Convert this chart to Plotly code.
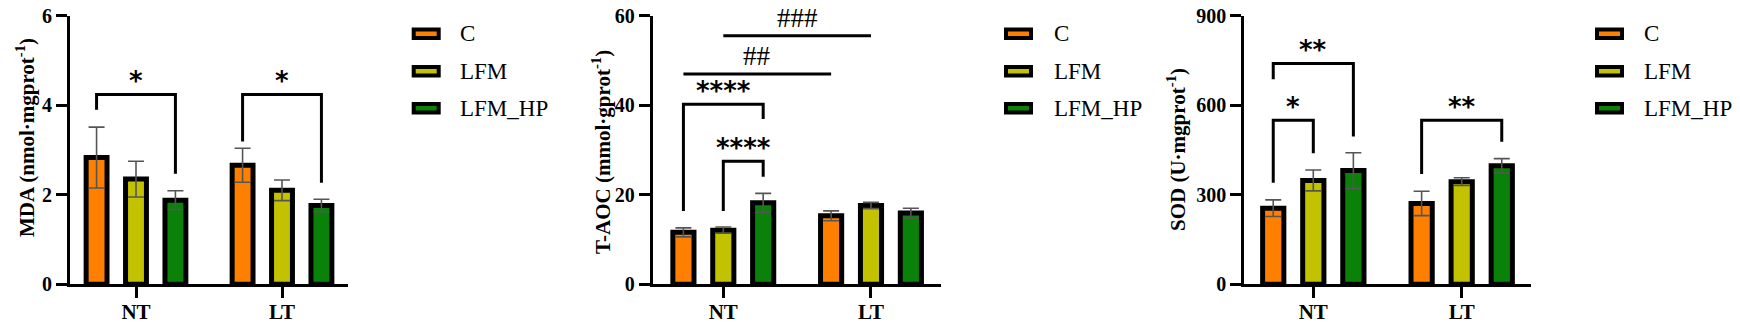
import plotly.graph_objects as go

# ---------------- data ----------------
categories = ["NT", "LT"]
groups = ["C", "LFM", "LFM_HP"]
colors = ["#FF8000", "#C2C200", "#0A820A"]

mda_C = [2.83, 2.66]
mda_LFM = [2.35, 2.10]
mda_HP = [1.88, 1.76]
mda_C_err = [0.68, 0.38]
mda_LFM_err = [0.40, 0.23]
mda_HP_err = [0.21, 0.14]

taoc_C = [11.6, 15.3]
taoc_LFM = [12.1, 17.6]
taoc_HP = [18.2, 15.9]
taoc_C_err = [1.0, 1.1]
taoc_LFM_err = [0.7, 0.7]
taoc_HP_err = [2.1, 1.1]

sod_C = [255, 271]
sod_LFM = [348, 344]
sod_HP = [381, 397]
sod_C_err = [28, 41]
sod_LFM_err = [35, 13]
sod_HP_err = [60, 24]

y_titles = ["MDA (nmol·mgprot<sup>-1</sup>)",
            "T-AOC (mmol·gprot<sup>-1</sup>)",
            "SOD (U·mgprot<sup>-1</sup>)"]
y_ticks = [[0, 2, 4, 6], [0, 20, 40, 60], [0, 300, 600, 900]]

# significance brackets: (panel, cat_a, grp_a, cat_b, grp_b, top, leg_a, leg_b, label)
brackets = [
    (0, 0, 0, 0, 2, 4.24, 3.90, 2.47, "*"),
    (0, 1, 0, 1, 2, 4.24, 3.19, 2.27, "*"),
    (1, 0, 0, 0, 2, 40.2, 16.4, 36.9, "****"),
    (1, 0, 1, 0, 2, 27.5, 16.4, 24.0, "****"),
    (2, 0, 0, 0, 1, 550, 340, 439, "*"),
    (2, 0, 0, 0, 2, 740, 687, 495, "**"),
    (2, 1, 0, 1, 2, 550, 370, 478, "**"),
]
# hash lines (no legs): (panel, cat_a, grp_a, cat_b, grp_b, level, label)
hash_lines = [
    (1, 0, 0, 1, 0, 47.0, "##"),
    (1, 0, 1, 1, 1, 55.5, "###"),
]

# ---------------- layout constants ----------------
PAGE_MARGIN = 8          # default <body> margin of the written page
W, H = 1740, 326         # target window
FW, FH = W - PAGE_MARGIN, H - PAGE_MARGIN


def px_x(x):
    return (x - PAGE_MARGIN) / FW


def px_y(y):
    return 1 - (y - PAGE_MARGIN) / FH


BARGAP, BARGROUPGAP = 0.19, 0.47
x_dom_px = [(70, 348), (652.7, 941), (1244.3, 1530.7)]
x_ranges = [[-0.452, 1.452], [-0.478, 1.474], [-0.465, 1.465]]
y_dom = [px_y(284.3), px_y(15.7)]
serif = "Liberation Serif"

panels = [
    ([mda_C, mda_LFM, mda_HP], [mda_C_err, mda_LFM_err, mda_HP_err]),
    ([taoc_C, taoc_LFM, taoc_HP], [taoc_C_err, taoc_LFM_err, taoc_HP_err]),
    ([sod_C, sod_LFM, sod_HP], [sod_C_err, sod_LFM_err, sod_HP_err]),
]

fig = go.Figure()
for p, (vals, errs) in enumerate(panels):
    xa = "x" if p == 0 else f"x{p+1}"
    ya = "y" if p == 0 else f"y{p+1}"
    for g in range(3):
        fig.add_trace(go.Bar(
            x=categories, y=vals[g], name=groups[g],
            xaxis=xa, yaxis=ya, showlegend=False,
            marker=dict(color=colors[g], line=dict(color="black", width=5)),
            error_y=dict(type="data", array=errs[g], color="#555555",
                         thickness=1.6, width=8),
        ))

layout = dict(
    width=FW, height=FH,
    margin=dict(l=0, r=0, t=0, b=0, pad=0, autoexpand=False),
    paper_bgcolor="white", plot_bgcolor="white",
    barmode="group", bargap=BARGAP, bargroupgap=BARGROUPGAP,
    showlegend=False,
)
for p in range(3):
    sx = "" if p == 0 else str(p + 1)
    layout["xaxis" + sx] = dict(
        domain=[px_x(x_dom_px[p][0]), px_x(x_dom_px[p][1])], anchor="y" + sx,
        range=x_ranges[p], showline=True, linecolor="black", linewidth=3,
        ticks="outside", ticklen=11, tickwidth=3, tickcolor="black",
        showgrid=False, zeroline=False, automargin=False,
        ticklabelstandoff=-5, ticklabeloverflow="allow",
        tickfont=dict(family=serif, size=21, color="black", weight="bold"),
    )
    layout["yaxis" + sx] = dict(
        domain=y_dom, anchor="x" + sx, range=[0, y_ticks[p][-1]],
        tickvals=y_ticks[p], showline=True, linecolor="black", linewidth=3,
        ticks="outside", ticklen=11, tickwidth=3, tickcolor="black",
        showgrid=False, zeroline=False, automargin=False,
        ticklabeloverflow="allow",
        tickfont=dict(family=serif, size=20, color="black", weight="bold"),
    )
fig.update_layout(**layout)

slot = (1 - BARGAP) / 3


def bar_x(cat, grp):
    return cat + (grp - 1) * slot


shapes = []
annotations = []
for (p, ca, ga, cb, gb, top, la, lb, lab) in brackets:
    sx = "" if p == 0 else str(p + 1)
    x0, x1 = bar_x(ca, ga), bar_x(cb, gb)
    shapes.append(dict(type="path", xref="x" + sx, yref="y" + sx,
                       path=f"M {x0},{la} L {x0},{top} L {x1},{top} L {x1},{lb}",
                       line=dict(color="black", width=3)))
    annotations.append(dict(xref="x" + sx, yref="y" + sx, x=(x0 + x1) / 2, y=top,
                            text=lab, showarrow=False, yanchor="bottom", yshift=-4,
                            font=dict(family="DejaVu Sans", size=26, color="black",
                                      weight="bold")))
for (p, ca, ga, cb, gb, lvl, lab) in hash_lines:
    sx = "" if p == 0 else str(p + 1)
    x0, x1 = bar_x(ca, ga), bar_x(cb, gb)
    shapes.append(dict(type="line", xref="x" + sx, yref="y" + sx,
                       x0=x0, x1=x1, y0=lvl, y1=lvl,
                       line=dict(color="black", width=3)))
    annotations.append(dict(xref="x" + sx, yref="y" + sx, x=(x0 + x1) / 2, y=lvl,
                            text=lab, showarrow=False, yanchor="bottom", yshift=1,
                            font=dict(family=serif, size=27, color="black")))

# y-axis titles
title_pos = [(25, 138), (601, 152), (1176, 150)]
for p in range(3):
    annotations.append(dict(xref="paper", yref="paper",
                            x=px_x(title_pos[p][0]), y=px_y(title_pos[p][1]),
                            text=y_titles[p], textangle=-90, showarrow=False,
                            xanchor="center", yanchor="middle",
                            font=dict(family=serif, size=21, color="black",
                                      weight="bold")))

# legends (one per panel)
legend_box_left = [411.7, 1004, 1595]
legend_text_left = [458, 1051.7, 1642.3]
legend_rows = [33.8, 71.3, 108.3]
for p in range(3):
    for g in range(3):
        cy = legend_rows[g]
        bx0 = legend_box_left[p] + 2
        bx1 = legend_box_left[p] + 27
        shapes.append(dict(type="rect", xref="paper", yref="paper",
                           x0=px_x(bx0), x1=px_x(bx1),
                           y0=px_y(cy + 4.3), y1=px_y(cy - 4.3),
                           fillcolor=colors[g], line=dict(color="black", width=4)))
        annotations.append(dict(xref="paper", yref="paper",
                                x=px_x(legend_text_left[p]), y=px_y(cy),
                                text=groups[g], showarrow=False,
                                xanchor="left", yanchor="middle",
                                font=dict(family=serif, size=23, color="black")))

fig.update_layout(shapes=shapes, annotations=annotations)
fig.write_html("out.html")
